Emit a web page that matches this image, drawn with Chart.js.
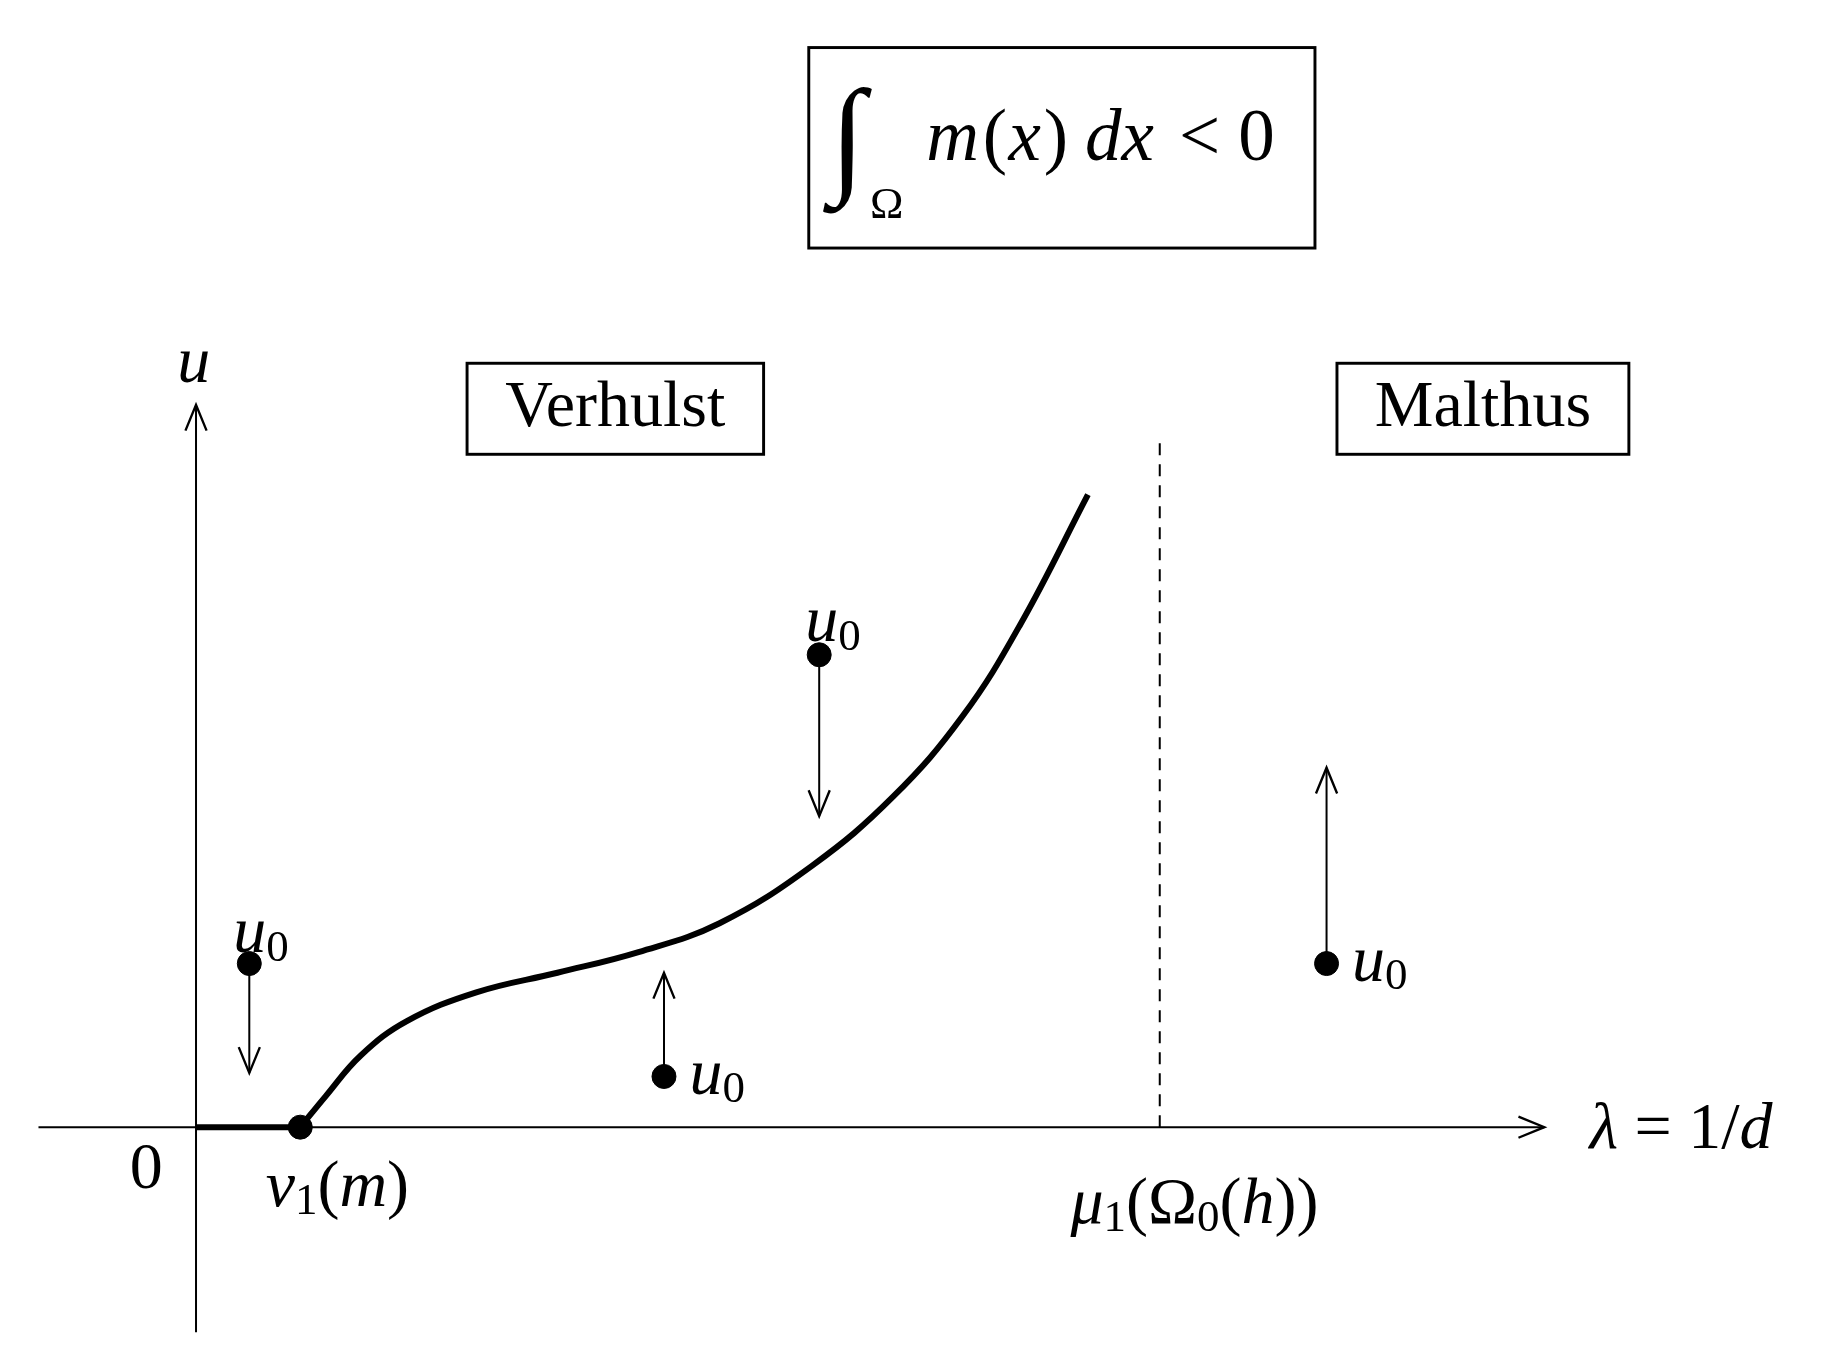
<!DOCTYPE html>
<html><head><meta charset="utf-8">
<script src="https://cdn.jsdelivr.net/npm/chart.js@4"></script>
<style>html,body{margin:0;background:#fff}#wrap{width:1833px;height:1366px}</style>
</head><body><div id="wrap"><canvas id="c"></canvas></div>
<script>
// branch of positive solutions (lambda, u)
const curveX = [0.90, 1.12, 1.42, 1.82, 2.42, 3.12, 3.82, 4.52, 5.32, 6.02, 6.62, 7.12, 7.70];
const curveY = [0.00, 0.27, 0.62, 0.92, 1.17, 1.34, 1.52, 1.77, 2.27, 2.87, 3.57, 4.37, 5.49];
const trivialX = [0, 0.90];
const dashX = 8.32, dashTop = 5.97;
// initial data u0 and where the arrows go
const dotsX = [0.46, 4.04, 5.38, 9.76];
const dotsY = [1.42, 0.44, 4.10, 1.42];
const arrowEndY = [0.47, 1.34, 2.70, 3.12];

const toPts = (xs, ys) => xs.map((x, i) => ({ x: x, y: ys[i] }));

// each label: pieces of [text, italic, subscript]
const labels = [
  { x: -0.02, y: 6.62, parts: [["u", 1, 0]] },
  { x: -0.43, y: -0.38, parts: [["0", 0, 0]] },
  { x: 1.22, y: -0.53, parts: [["ν", 1, 0], ["1", 0, 1], ["(", 0, 0], ["m", 1, 0], [")", 0, 0]] },
  { x: 8.62, y: -0.68, parts: [["μ", 1, 0], ["1", 0, 1], ["(Ω", 0, 0], ["0", 0, 1], ["(", 0, 0], ["h", 1, 0], ["))", 0, 0]] },
  { x: 12.82, y: -0.03, parts: [["λ", 1, 0], [" = 1/", 0, 0], ["d", 1, 0]] },
  { x: 0.56, y: 1.67, parts: [["u", 1, 0], ["0", 0, 1]] },
  { x: 4.50, y: 0.44, parts: [["u", 1, 0], ["0", 0, 1]] },
  { x: 5.50, y: 4.37, parts: [["u", 1, 0], ["0", 0, 1]] },
  { x: 10.22, y: 1.42, parts: [["u", 1, 0], ["0", 0, 1]] },
];
const boxes = [
  { text: "Verhulst", x0: 2.34, x1: 4.90, y0: 6.63, y1: 5.84 },
  { text: "Malthus", x0: 9.85, x1: 12.37, y0: 6.63, y1: 5.84 },
  { text: "∫Ω m(x) dx < 0", x0: 5.29, x1: 9.66, y0: 9.37, y1: 7.63 },
];

const F = "'Liberation Serif', 'DejaVu Serif', serif";

const draw = {
  id: "draw",
  afterDatasetsDraw(chart) {
    const ctx = chart.ctx, xs = chart.scales.x, ys = chart.scales.y;
    const s = chart.width / 1560;
    const px = (v) => xs.getPixelForValue(v), py = (v) => ys.getPixelForValue(v);
    ctx.save();
    ctx.strokeStyle = "#000"; ctx.fillStyle = "#000"; ctx.lineWidth = 2 * s;
    const head = (x, y, dir) => {
      const L = 22 * s, W = 9 * s;
      ctx.beginPath();
      if (dir === "up") { ctx.moveTo(x - W, y + L); ctx.lineTo(x, y); ctx.lineTo(x + W, y + L); }
      if (dir === "down") { ctx.moveTo(x - W, y - L); ctx.lineTo(x, y); ctx.lineTo(x + W, y - L); }
      if (dir === "right") { ctx.moveTo(x - L, y - W); ctx.lineTo(x, y); ctx.lineTo(x - L, y + W); }
      ctx.stroke();
    };
    head(px(11.64), py(0), "right");
    head(px(0), py(6.27), "up");
    dotsX.forEach((x, i) => head(px(x), py(arrowEndY[i]), arrowEndY[i] < dotsY[i] ? "down" : "up"));

    ctx.textBaseline = "middle"; ctx.textAlign = "left";
    const fontOf = (p) => (p[1] ? "italic " : "") + Math.round((p[2] ? 38 : 56) * s) + "px " + F;
    labels.forEach(l => {
      let w = 0;
      l.parts.forEach(p => { ctx.font = fontOf(p); w += ctx.measureText(p[0]).width; });
      let x = px(l.x) - w / 2;
      const y = py(l.y);
      l.parts.forEach(p => {
        ctx.font = fontOf(p);
        ctx.fillText(p[0], x, p[2] ? y + 12 * s : y);
        x += ctx.measureText(p[0]).width;
      });
    });
    boxes.forEach((b, i) => {
      ctx.lineWidth = 2.5 * s;
      ctx.strokeRect(px(b.x0), py(b.y0), px(b.x1) - px(b.x0), py(b.y1) - py(b.y0));
      const cx = (px(b.x0) + px(b.x1)) / 2, cy = (py(b.y0) + py(b.y1)) / 2;
      if (i < 2) {
        ctx.textAlign = "center";
        ctx.font = Math.round(56 * s) + "px " + F;
        ctx.fillText(b.text, cx, cy);
        ctx.textAlign = "left";
      } else {
        ctx.font = "italic " + Math.round(110 * s) + "px " + F;
        ctx.fillText("∫", px(b.x0) + 18 * s, cy - 2 * s);
        ctx.font = Math.round(38 * s) + "px " + F;
        ctx.fillText("Ω", px(b.x0) + 52 * s, cy + 50 * s);
        ctx.font = "italic " + Math.round(62 * s) + "px " + F;
        ctx.fillText("m", px(b.x0) + 100 * s, cy - 6 * s);
        ctx.font = Math.round(62 * s) + "px " + F;
        ctx.fillText("(", px(b.x0) + 148 * s, cy - 6 * s);
        ctx.font = "italic " + Math.round(62 * s) + "px " + F;
        ctx.fillText("x", px(b.x0) + 170 * s, cy - 6 * s);
        ctx.font = Math.round(62 * s) + "px " + F;
        ctx.fillText(")", px(b.x0) + 200 * s, cy - 6 * s);
        ctx.font = "italic " + Math.round(62 * s) + "px " + F;
        ctx.fillText("dx", px(b.x0) + 235 * s, cy - 6 * s);
        ctx.font = Math.round(62 * s) + "px " + F;
        ctx.fillText("< 0", px(b.x0) + 315 * s, cy - 6 * s);
      }
    });
    ctx.restore();
  }
};

const line = (data, w, extra) => Object.assign({ type: "line", data: data, borderColor: "#000", borderWidth: w,
  pointRadius: 0, fill: false, tension: 0.4, showLine: true }, extra || {});

new Chart(document.getElementById("c"), {
  type: "scatter",
  data: {
    datasets: [
      line([{ x: -1.36, y: 0 }, { x: 11.64, y: 0 }], 2, { tension: 0 }),
      line([{ x: 0, y: -1.78 }, { x: 0, y: 6.27 }], 2, { tension: 0 }),
      line([{ x: dashX, y: 0 }, { x: dashX, y: dashTop }], 2, { tension: 0, borderDash: [12, 9] }),
      line(toPts(trivialX, [0, 0]), 6, { tension: 0 }),
      line(toPts(curveX, curveY), 6),
      ...dotsX.map((x, i) => line([{ x: x, y: dotsY[i] }, { x: x, y: arrowEndY[i] }], 2, { tension: 0 })),
      { data: [...toPts(dotsX, dotsY), { x: 0.90, y: 0 }], backgroundColor: "#000", borderColor: "#000", pointRadius: 12 },
    ]
  },
  options: {
    responsive: true, maintainAspectRatio: false, animation: false,
    layout: { padding: 0 },
    plugins: { legend: { display: false }, tooltip: { enabled: false } },
    scales: {
      x: { type: "linear", display: false, min: -1.58, max: 14.02 },
      y: { type: "linear", display: false, min: -1.96, max: 9.67 }
    }
  },
  plugins: [draw]
});
</script></body></html>
